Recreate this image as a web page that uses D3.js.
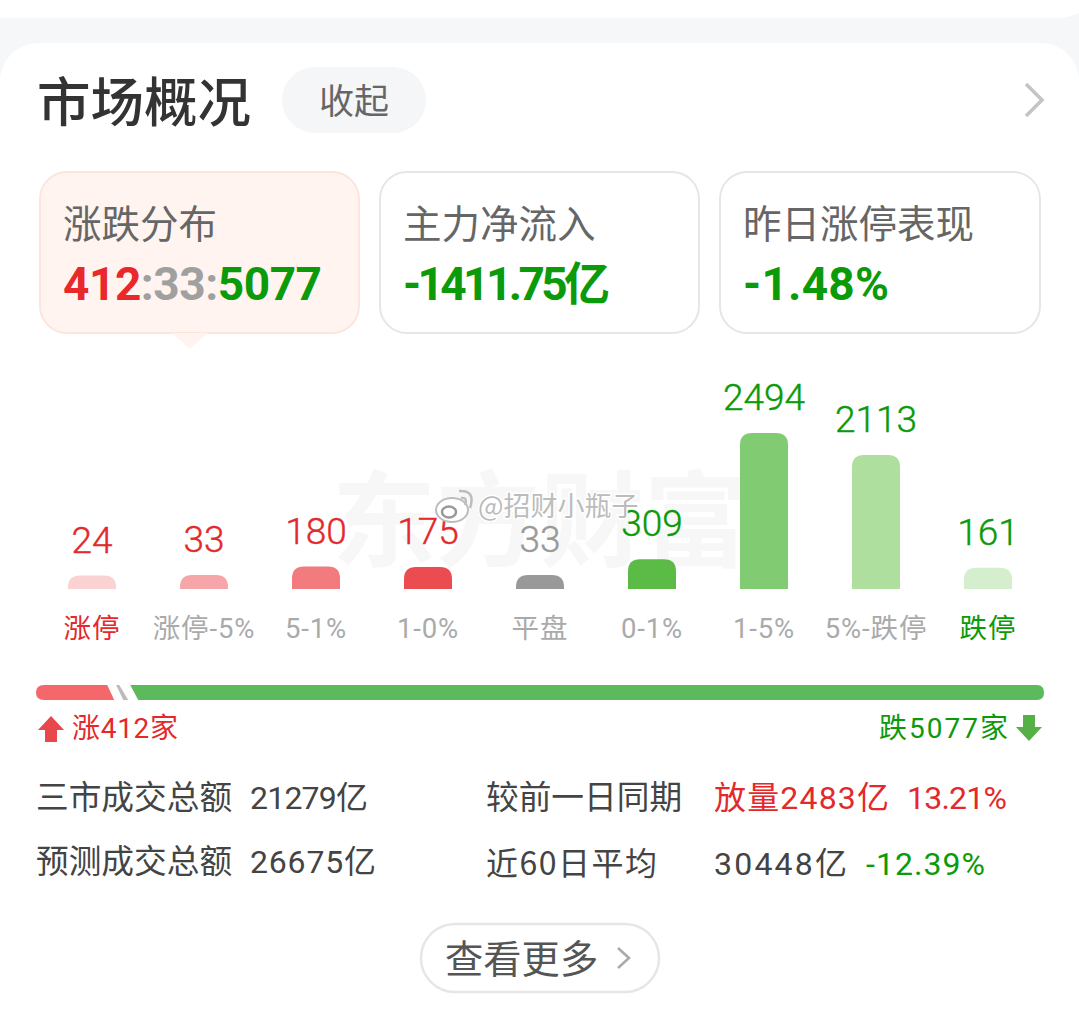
<!DOCTYPE html>
<html>
<head>
<meta charset="utf-8">
<script src="https://cdn.jsdelivr.net/npm/d3@7"></script>
<style>
html, body { margin: 0; padding: 0; background: #f6f7f9; overflow: hidden; }
svg { display: block; font-family: Roboto, "Noto Sans CJK SC", sans-serif; }
</style>
</head>
<body>
<div id="chart"></div>
<script>
var categories = ["涨停", "涨停-5%", "5-1%", "1-0%", "平盘", "0-1%", "1-5%", "5%-跌停", "跌停"];
var counts = [24, 33, 180, 175, 33, 309, 2494, 2113, 161];
var barColors = ["#fbd2d2", "#f6a5a8", "#f27b7e", "#ea4c50", "#999999", "#5cba47", "#81cb72", "#aedf9f", "#d5efce"];
var valueColors = ["#e3292c", "#e3292c", "#e3292c", "#e3292c", "#999999", "#0a9a0a", "#0a9a0a", "#0a9a0a", "#0a9a0a"];
var tickColors = ["#e3292c", "#aaaaaa", "#aaaaaa", "#aaaaaa", "#aaaaaa", "#aaaaaa", "#aaaaaa", "#aaaaaa", "#0a9a0a"];
var breadth = [412, 33, 5077];
var breadthColors = ["#f4676b", "#bbbbbb", "#5cba5c"];
var cards = [
  { title: "涨跌分布", x: 40, w: 319, len: 259, parts: [["412", "#e8282b"], [":33:", "#a0a0a0"], ["5077", "#0a9a0a"]] },
  { title: "主力净流入", x: 380, w: 319, len: 207, parts: [["-1411.75亿", "#0a9a0a"]] },
  { title: "昨日涨停表现", x: 720, w: 320, len: 146, parts: [["-1.48%", "#0a9a0a"]] }
];

var W = 1079, H = 1010;
var cjk = '"Noto Sans CJK SC", sans-serif';
var svg = d3.select("#chart").append("svg").attr("width", W).attr("height", H);

function label(x, y, str, size, color, anchor, weight, family, len) {
  var t = svg.append("text")
    .attr("x", x).attr("y", y)
    .style("font-size", size + "px")
    .style("fill", color)
    .style("text-anchor", anchor || "start")
    .style("font-weight", weight || 400)
    .style("font-family", family || null)
    .text(str);
  if (len) t.attr("textLength", len).attr("lengthAdjust", "spacing");
  return t;
}

// page background and the two cards
svg.append("rect").attr("x", -40).attr("y", -60).attr("width", W + 60).attr("height", 78).attr("rx", 40).style("fill", "white");
svg.append("rect").attr("x", 0).attr("y", 43).attr("width", W).attr("height", H + 60).attr("rx", 38).style("fill", "white");

// header
label(37, 122, "市场概况", 53.5, "#333333", "start", 500, cjk);
svg.append("rect").attr("x", 282).attr("y", 67).attr("width", 144).attr("height", 66).attr("rx", 33).style("fill", "#f5f6f8");
label(354, 114, "收起", 35, "#666666", "middle", 400, cjk);
svg.append("path").attr("d", "M1026,84 L1042,100 L1026,116").style("fill", "none").style("stroke", "#c4c4c4").style("stroke-width", 3.5);

// top cards
cards.forEach(function(c, i) {
  var on = i === 0;
  svg.append("rect").attr("x", c.x).attr("y", 172).attr("width", c.w).attr("height", 161).attr("rx", 27)
    .style("fill", on ? "#fff4f0" : "white")
    .style("stroke", on ? "#fbe6de" : "#e6e6e6").style("stroke-width", 2);
  label(c.x + 23, 238, c.title, 38.5, "#666666", "start", 400, cjk);
  var t = label(c.x + 23, 300, "", 46, "#000", "start", 700, null);
  c.parts.forEach(function(p) {
    t.append("tspan").style("fill", p[1]).text(p[0]);
  });
  t.attr("textLength", c.len).attr("lengthAdjust", "spacing");
});
svg.append("path").attr("d", "M172,333 L190,349 L208,333 Z").style("fill", "#fff4f0");

// watermark behind the bars
label(540, 559, "东方财富", 104, "#f7f7f7", "middle", 700, cjk);

// bars: the app keeps a 12px minimum height, then scales linearly
var x = d3.scaleBand().domain(categories).range([36, 1044]).padding(0);
var h = d3.scaleLinear().domain([0, d3.max(counts)]).range([12, 156]);
var baseY = 589, barW = 48, r = 12;

function barPath(d, i) {
  var cx = x(categories[i]) + x.bandwidth() / 2, top = baseY - h(d), l = cx - barW / 2, rt = cx + barW / 2;
  return "M" + l + "," + baseY + "V" + (top + r) + "Q" + l + "," + top + " " + (l + r) + "," + top +
    "H" + (rt - r) + "Q" + rt + "," + top + " " + rt + "," + (top + r) + "V" + baseY + "Z";
}

svg.selectAll("path.bar").data(counts).enter().append("path")
  .attr("class", "bar")
  .attr("d", barPath)
  .style("fill", function(d, i) { return barColors[i]; });

svg.selectAll("text.val").data(counts).enter().append("text")
  .attr("class", "val")
  .attr("x", function(d, i) { return x(categories[i]) + x.bandwidth() / 2; })
  .attr("y", function(d) { return baseY - h(d) - 23; })
  .style("font-size", "37px")
  .style("font-weight", 300)
  .style("stroke-width", 0.4)
  .style("stroke", function(d, i) { return valueColors[i]; })
  .style("text-anchor", "middle")
  .style("fill", function(d, i) { return valueColors[i]; })
  .text(function(d) { return d; });

var axis = svg.append("g").attr("transform", "translate(0," + 615 + ")")
  .call(d3.axisBottom(x).tickSize(0).tickPadding(3));
axis.select(".domain").remove();
axis.selectAll("text")
  .style("font-size", "27.5px")
  .style("letter-spacing", "0.9px")
  .style("font-family", "Roboto, " + cjk)
  .style("fill", function(d, i) { return tickColors[i]; });

// weibo watermark
var wb = svg.append("g");
wb.append("ellipse").attr("cx", 452).attr("cy", 510).attr("rx", 16).attr("ry", 12).style("fill", "white").style("stroke", "#bdbdbd").style("stroke-width", 2);
wb.append("ellipse").attr("cx", 449).attr("cy", 512).attr("rx", 7).attr("ry", 5.5).style("fill", "none").style("stroke", "#999999").style("stroke-width", 2.5);
wb.append("path").attr("d", "M459,491 Q476,490 470,508 M461,498 Q468,497 465,505").style("fill", "none").style("stroke", "#bdbdbd").style("stroke-width", 2.5);
label(478, 516, "@招财小瓶子", 27, "#bcbcbc", "start", 400, cjk)
  .style("paint-order", "stroke").style("stroke", "#ffffff").style("stroke-width", 3);

// breadth bar
var b = d3.scaleLinear().domain([0, d3.sum(breadth)]).range([36, 1044]);
var by0 = 685, by1 = 700;
var e1 = b(breadth[0]), e2 = b(breadth[0] + breadth[1]);
svg.append("path")
  .attr("d", "M" + (e1 - 4) + "," + by0 + "H44Q36," + by0 + " 36," + ((by0 + by1) / 2) + "Q36," + by1 + " 44," + by1 + "H" + (e1 + 3) + "Z")
  .style("fill", breadthColors[0]);
svg.append("path")
  .attr("d", "M" + (e1 + 5) + "," + by0 + "H" + (e1 + 8) + "L" + (e2 + 11) + "," + by1 + "H" + (e2 + 6) + "Z")
  .style("fill", breadthColors[1]);
svg.append("path")
  .attr("d", "M" + (e2 + 13) + "," + by0 + "H1037Q1044," + by0 + " 1044," + ((by0 + by1) / 2) + "Q1044," + by1 + " 1037," + by1 + "H" + (e2 + 21) + "Z")
  .style("fill", breadthColors[2]);

svg.append("path").attr("d", "M51,716 L64,730 L57,730 L57,742 L45,742 L45,730 L38,730 Z").style("fill", "#e8474b");
label(72, 738, "涨" + breadth[0] + "家", 28, "#e3292c", "start", 400, null, 106);
svg.append("path").attr("d", "M1029,741 L1042,727 L1035,727 L1035,715 L1023,715 L1023,727 L1016,727 Z").style("fill", "#55b046");
label(879, 738, "跌" + breadth[2] + "家", 28, "#0a9a0a", "start", 400, null, 129);

// turnover rows
var dark = "#444444";
label(36, 809, "三市成交总额", 32.7, dark, "start", 400, cjk);
label(250, 809, "21279亿", 32, dark, "start", 400, null, 118);
label(486, 809, "较前一日同期", 32.7, dark, "start", 400, cjk);
label(714, 809, "放量2483亿", 32, "#e3292c", "start", 400, null, 175);
label(907, 809, "13.21%", 32, "#e3292c", "start", 400, null, 100);
label(36, 873, "预测成交总额", 32.7, dark, "start", 400, cjk);
label(250, 873, "26675亿", 32, dark, "start", 400, null, 126);
label(486, 875, "近60日平均", 32, dark, "start", 400, cjk, 171);
label(714, 875, "30448亿", 32, dark, "start", 400, null, 133);
label(866, 875, "-12.39%", 32, "#0a9a0a", "start", 400, null, 119);

// more button
svg.append("rect").attr("x", 421).attr("y", 924).attr("width", 238).attr("height", 68).attr("rx", 34)
  .style("fill", "white").style("stroke", "#e6e6e6").style("stroke-width", 2.5);
label(445, 973, "查看更多", 38.3, "#555555", "start", 400, cjk);
svg.append("path").attr("d", "M618,948 L629,958 L618,968").style("fill", "none").style("stroke", "#aaaaaa").style("stroke-width", 2.5);
</script>
</body>
</html>
